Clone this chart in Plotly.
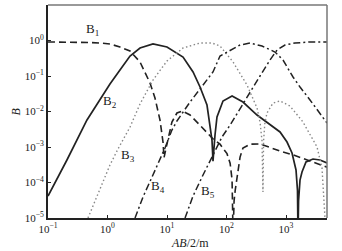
import plotly.graph_objects as go

# ---- data (x = AB/2 in m, y = B) ----
b1_x = [0.1, 0.234, 0.508, 0.748, 1.10, 1.62, 2.39, 3.52, 5.18, 6.28, 7.62, 8.57, 8.91, 9.6,
        10.4, 12.1, 14.7, 17.9, 24.4, 35.9, 47.0, 59.3, 77.8, 102, 115, 124, 129, 134, 140,
        150, 169, 189, 248, 366, 539, 793, 1312, 2531, 4887]
b1_y = [0.908, 0.908, 0.879, 0.851, 0.797, 0.656, 0.506, 0.248, 0.0635, 0.024, 0.00576, 0.00138,
        0.0005, 0.0009, 0.00157, 0.00506, 0.00907, 0.0103, 0.0080, 0.0042, 0.0026, 0.0017,
        0.0012, 0.00065, 0.00035, 0.00012, 0.000003, 0.00003, 0.00006, 0.00012, 0.00052,
        0.00093, 0.00120, 0.00122, 0.00095, 0.00077, 0.00060, 0.00040, 0.00027]

b2_x = [0.1, 0.208, 0.452, 0.748, 1.10, 1.62, 2.39, 3.52, 5.82, 10.0, 18.6, 27.4, 35.9, 47.0,
        52.8, 57.0, 59.3, 61.5, 64.1, 69.2, 87.3, 124, 189, 326, 539, 793, 1040, 1262, 1473,
        1560, 1592, 1625, 1719, 1858, 2168, 2843, 3727, 4887]
b2_y = [4.17e-5, 4.3e-4, 5.77e-3, 0.0225, 0.0596, 0.148, 0.366, 0.615, 0.797, 0.656, 0.343,
        0.130, 0.049, 0.0152, 4.17e-3, 1.57e-3, 4.0e-4, 1.0e-3, 2.18e-3, 7.0e-3, 0.0198, 0.0273,
        0.0185, 7.96e-3, 4.17e-3, 2.65e-3, 1.38e-3, 6.78e-4, 2.25e-4, 6.0e-5, 3e-6, 3.0e-5,
        1.17e-4, 1.98e-4, 3.78e-4, 4.59e-4, 4.30e-4, 3.54e-4]

b3_x = [0.470, 0.748, 1.10, 1.50, 2.39, 3.52, 5.82, 10.0, 18.6, 35.9, 57.0, 77.8, 129, 221,
        326, 366, 395, 410, 420, 440, 479, 605, 793, 1167, 1931, 3321, 4029, 4521]
b3_y = [1e-5, 6.56e-5, 3.11e-4, 8.79e-4, 3.66e-3, 0.01626, 0.0771, 0.265, 0.615, 0.851, 0.851,
        0.700, 0.248, 0.0557, 0.01256, 5.0e-3, 1.5e-3, 5.4e-5, 1.5e-3, 4.5e-3, 9.07e-3, 0.0173,
        0.0198, 0.0143, 5.06e-3, 1.0e-3, 2.56e-4, 1e-5]

b4_x = [2.90, 3.95, 5.60, 7.62, 9.25, 12.1, 14.7, 24.4, 35.9, 59.3, 77.8, 115, 169, 248, 395,
        653, 891, 1312, 1719, 2531, 3321, 4887]
b4_y = [1e-5, 3.91e-5, 1.43e-4, 4.30e-4, 9.37e-4, 3.01e-3, 5.40e-3, 0.0185, 0.0431, 0.130,
        0.366, 0.539, 0.747, 0.851, 0.700, 0.474, 0.282, 0.0937, 0.0490, 0.0211, 0.0110, 4.74e-3]

b5_x = [20.1, 27.4, 40.3, 59.3, 84.0, 115, 205, 366, 539, 706, 962, 1416, 2531, 4887]
b5_y = [1e-5, 4.17e-5, 1.63e-4, 5.96e-4, 1.91e-3, 4.17e-3, 0.0211, 0.100, 0.282, 0.539, 0.747,
        0.851, 0.908, 0.908]

x_tickvals = [0.1, 1, 10, 100, 1000]
x_ticktext = ["10<sup>−1</sup>", "10<sup>0</sup>", "10<sup>1</sup>", "10<sup>2</sup>", "10<sup>3</sup>"]
y_tickvals = [1e-5, 1e-4, 1e-3, 1e-2, 1e-1, 1, 10]
y_ticktext = ["10<sup>−5</sup>", "10<sup>−4</sup>", "10<sup>−3</sup>", "10<sup>−2</sup>",
              "10<sup>−1</sup>", "10<sup>0</sup>", "10<sup>1</sup>"]

labels = ["B<sub>1</sub>", "B<sub>2</sub>", "B<sub>3</sub>", "B<sub>4</sub>", "B<sub>5</sub>"]
label_pos = [(-0.26, 0.30), (0.04, -1.73), (0.345, -3.25), (0.85, -4.10), (1.69, -4.25)]

FONT = "Liberation Serif"
fig = go.Figure()
fig.add_trace(go.Scatter(x=b1_x, y=b1_y, mode="lines",
                         line=dict(color="#222", width=1.6, dash="7px,4px")))
fig.add_trace(go.Scatter(x=b2_x, y=b2_y, mode="lines",
                         line=dict(color="#222", width=1.7)))
fig.add_trace(go.Scatter(x=b3_x, y=b3_y, mode="lines",
                         line=dict(color="#888", width=1.4, dash="1.5px,2.5px")))
fig.add_trace(go.Scatter(x=b4_x, y=b4_y, mode="lines",
                         line=dict(color="#222", width=1.5, dash="7px,3px,2px,3px")))
fig.add_trace(go.Scatter(x=b5_x, y=b5_y, mode="lines",
                         line=dict(color="#222", width=1.5, dash="7px,3px,2px,3px")))

for txt, (ax, ay) in zip(labels, label_pos):
    fig.add_annotation(x=ax, y=ay, xref="x", yref="y", text=txt, showarrow=False,
                       xanchor="center", yanchor="middle",
                       font=dict(family=FONT, size=13, color="#222"))

# axis titles
fig.add_annotation(x=0.509, y=-0.117, xref="paper", yref="paper", text="<i>AB</i>/2/m",
                   showarrow=False, xanchor="center", yanchor="middle",
                   font=dict(family=FONT, size=12, color="#222"))
fig.add_annotation(x=-0.118, y=0.50, xref="paper", yref="paper", text="<i>B</i>",
                   showarrow=False, textangle=-90, xanchor="center", yanchor="middle",
                   font=dict(family=FONT, size=12, color="#222"))

fig.add_shape(type="line", xref="paper", yref="paper", x0=0, x1=1, y0=1, y1=1,
              line=dict(color="#777", width=1.5))
fig.add_shape(type="line", xref="paper", yref="paper", x0=1, x1=1, y0=0, y1=1,
              line=dict(color="#777", width=1.5))

fig.update_layout(
    width=342, height=251,
    margin=dict(l=48, r=15, t=5, b=33),
    paper_bgcolor="white", plot_bgcolor="white",
    showlegend=False,
    font=dict(family=FONT, size=11, color="#222"),
)
fig.update_xaxes(type="log", range=[-1, 3.689], tickvals=x_tickvals, ticktext=x_ticktext,
                 showgrid=False, zeroline=False, showline=True, linecolor="#222", linewidth=1.8,
                 ticks="inside", ticklen=3, tickcolor="#222", automargin=False)
fig.update_yaxes(type="log", range=[-5, 1], tickvals=y_tickvals, ticktext=y_ticktext,
                 showgrid=False, zeroline=False, showline=True, linecolor="#222", linewidth=1.8,
                 ticks="inside", ticklen=3, tickcolor="#222", automargin=False)

fig.write_html("out.html", config={"displayModeBar": False},
               post_script="document.body.style.margin='0';document.body.style.overflow='hidden';")
